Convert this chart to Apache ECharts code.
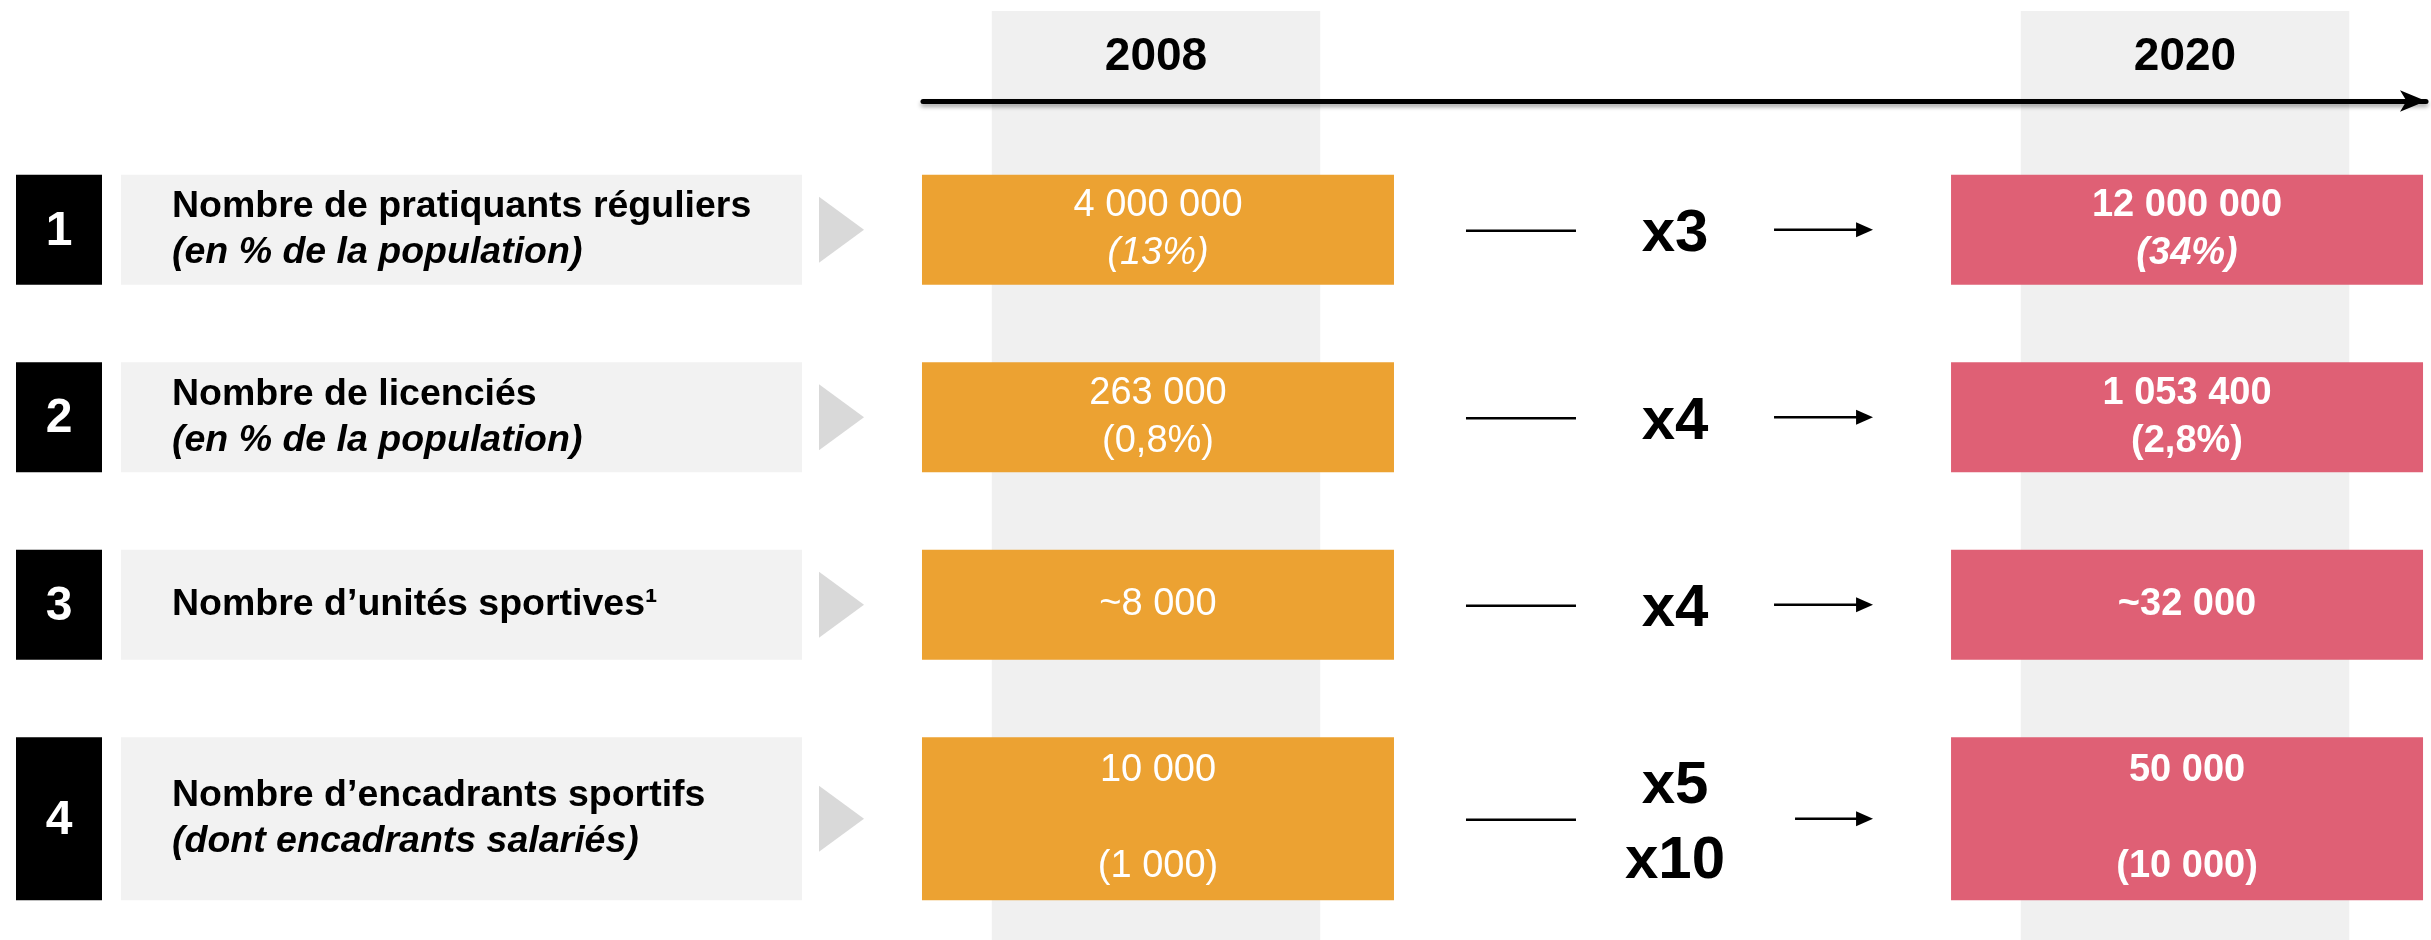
<!DOCTYPE html>
<html lang="fr">
<head>
<meta charset="UTF-8">
<title>Pratique sportive 2008 - 2020</title>
<script src="https://cdn.jsdelivr.net/npm/echarts@6/dist/echarts.min.js"></script>
<style>
    html, body { margin: 0; padding: 0; background: #ffffff; }
    #chart { width: 2431px; height: 940px; }
</style>
</head>
<body>
<div id="chart"></div>
<script>
    // data
    var years = [2008, 2020];
    var rowTitles = ['Nombre de pratiquants réguliers', 'Nombre de licenciés', 'Nombre d’unités sportives¹', 'Nombre d’encadrants sportifs'];
    var rowNotes = ['(en % de la population)', '(en % de la population)', '', '(dont encadrants salariés)'];
    var values2008 = [4000000, 263000, 8000, 10000];
    var values2020 = [12000000, 1053400, 32000, 50000];
    var approx = [false, false, true, false];
    var shares2008 = ['(13%)', '(0,8%)', '', '(1 000)'];
    var shares2020 = ['(34%)', '(2,8%)', '', '(10 000)'];
    var multipliers = ['x3', 'x4', 'x4', 'x5\nx10'];

    var FONT = '"Liberation Sans", Arial, sans-serif';
    var ORANGE = '#eca232';
    var RED = '#df6075';

    function fmt(v, i) {
        var s = String(v).replace(/\B(?=(\d{3})+(?!\d))/g, ' ');
        return (approx[i] ? '~' : '') + s;
    }

    function boxText(value, share, i, bold) {
        var txt = '{v|' + fmt(value, i) + '}';
        if (share) {
            // the taller last row keeps an empty line between the two figures
            txt += (i === 3 ? '\n{v| }\n' : '\n') + '{' + (i === 0 ? 'si' : 's') + '|' + share + '}';
        }
        var w = bold ? 'bold' : 'normal';
        return {
            text: txt,
            rich: {
                v: {fontSize: 38, fontWeight: w, fill: '#fff', fontFamily: FONT, lineHeight: 48},
                s: {fontSize: 38, fontWeight: w, fill: '#fff', fontFamily: FONT, lineHeight: 48},
                si: {fontSize: 38, fontWeight: w, fontStyle: 'italic', fill: '#fff', fontFamily: FONT, lineHeight: 48}
            }
        };
    }

    function renderBand(params, api) {
        var x = api.coord([api.value(0), 0])[0];
        var w = api.size([3.83, 0])[0];
        return {
            type: 'rect',
            shape: {x: x - w / 2, y: 11, width: w, height: 940 - 11},
            style: {fill: '#f0f0f0'}
        };
    }

    function renderRow(params, api) {
        var i = params.dataIndex;
        var p08 = api.coord([years[0], i]);
        var p20 = api.coord([years[1], i]);
        var tall = i === 3;
        var top = p08[1] - 55;
        var h = tall ? 163 : 110;
        var mid = top + h / 2;
        var halfW = 236;
        var x08 = p08[0] + 2, x20 = p20[0] + 2;
        var oRight = x08 + halfW, rLeft = x20 - halfW;
        var dashA = oRight + 72, dashB = oRight + 182;
        var arrB = rLeft - 78, arrA = tall ? arrB - 78 : arrB - 99;
        var multX = (dashB + (arrB - 99)) / 2;

        var title = '{t|' + rowTitles[i] + '}' + (rowNotes[i] ? '\n{n|' + rowNotes[i] + '}' : '');
        var t08 = boxText(values2008[i], shares2008[i], i, false);
        var t20 = boxText(values2020[i], shares2020[i], i, true);

        return {
            type: 'group',
            children: [
                {type: 'rect', shape: {x: 16, y: top, width: 86, height: h}, style: {fill: '#000'}},
                {type: 'text', style: {text: String(i + 1), x: 59, y: mid + 2, align: 'center', verticalAlign: 'middle',
                    fill: '#fff', fontSize: 48, fontWeight: 'bold', fontFamily: FONT}},
                {type: 'rect', shape: {x: 121, y: top, width: 681, height: h}, style: {fill: '#f2f2f2'}},
                {type: 'text', style: {text: title, x: 172, y: mid, align: 'left', verticalAlign: 'middle',
                    rich: {
                        t: {fontSize: 37.5, fontWeight: 'bold', fill: '#000', fontFamily: FONT, lineHeight: 46},
                        n: {fontSize: 37.5, fontWeight: 'bold', fontStyle: 'italic', fill: '#000', fontFamily: FONT, lineHeight: 46}
                    }}},
                {type: 'polygon', shape: {points: [[819, mid - 33], [819, mid + 33], [864, mid]]}, style: {fill: '#d9d9d9'}},
                {type: 'rect', shape: {x: x08 - halfW, y: top, width: halfW * 2, height: h}, style: {fill: ORANGE}},
                {type: 'text', style: {text: t08.text, rich: t08.rich, x: x08, y: mid, align: 'center', verticalAlign: 'middle'}},
                {type: 'line', shape: {x1: dashA, y1: mid + 1, x2: dashB, y2: mid + 1}, style: {stroke: '#000', lineWidth: 2.5}},
                {type: 'text', style: {text: multipliers[i], x: multX, y: mid + 5, align: 'center', verticalAlign: 'middle',
                    fill: '#000', fontSize: 60, fontWeight: 'bold', fontFamily: FONT, lineHeight: 75}},
                {type: 'line', shape: {x1: arrA, y1: mid, x2: arrB - 14, y2: mid}, style: {stroke: '#000', lineWidth: 2.5}},
                {type: 'polygon', shape: {points: [[arrB - 17, mid - 7.5], [arrB - 17, mid + 7.5], [arrB, mid]]}, style: {fill: '#000'}},
                {type: 'rect', shape: {x: x20 - halfW, y: top, width: halfW * 2, height: h}, style: {fill: RED}},
                {type: 'text', style: {text: t20.text, rich: t20.rich, x: x20, y: mid, align: 'center', verticalAlign: 'middle'}}
            ]
        };
    }

    var chart = echarts.init(document.getElementById('chart'));
    var option = {
        animation: false,
        backgroundColor: '#ffffff',
        textStyle: {fontFamily: FONT},
        grid: {left: 923, right: 5, top: 136, height: 750},
        xAxis: {
            type: 'value',
            position: 'top',
            offset: 35,
            z: 10,
            min: years[0] - 2.717,
            max: years[1] + 2.81,
            axisLine: {
                show: true,
                symbol: ['none', 'arrow'],
                symbolSize: [16, 26],
                lineStyle: {color: '#000', width: 5, shadowColor: 'rgba(0,0,0,0.35)', shadowBlur: 4, shadowOffsetY: 3}
            },
            axisTick: {show: false},
            splitLine: {show: false},
            axisLabel: {
                customValues: years,
                formatter: function (v) { return String(v); },
                fontSize: 46,
                fontWeight: 'bold',
                color: '#000',
                fontFamily: FONT,
                margin: 21
            }
        },
        yAxis: {type: 'category', data: rowTitles, inverse: true, show: false},
        series: [
            {type: 'custom', name: 'bands', z: 1, data: years.map(function (y) { return [y, 0]; }), renderItem: renderBand},
            {type: 'custom', name: 'rows', z: 2, data: rowTitles.map(function (t, i) { return [years[0], i]; }), renderItem: renderRow}
        ]
    };
    chart.setOption(option);
</script>
</body>
</html>
